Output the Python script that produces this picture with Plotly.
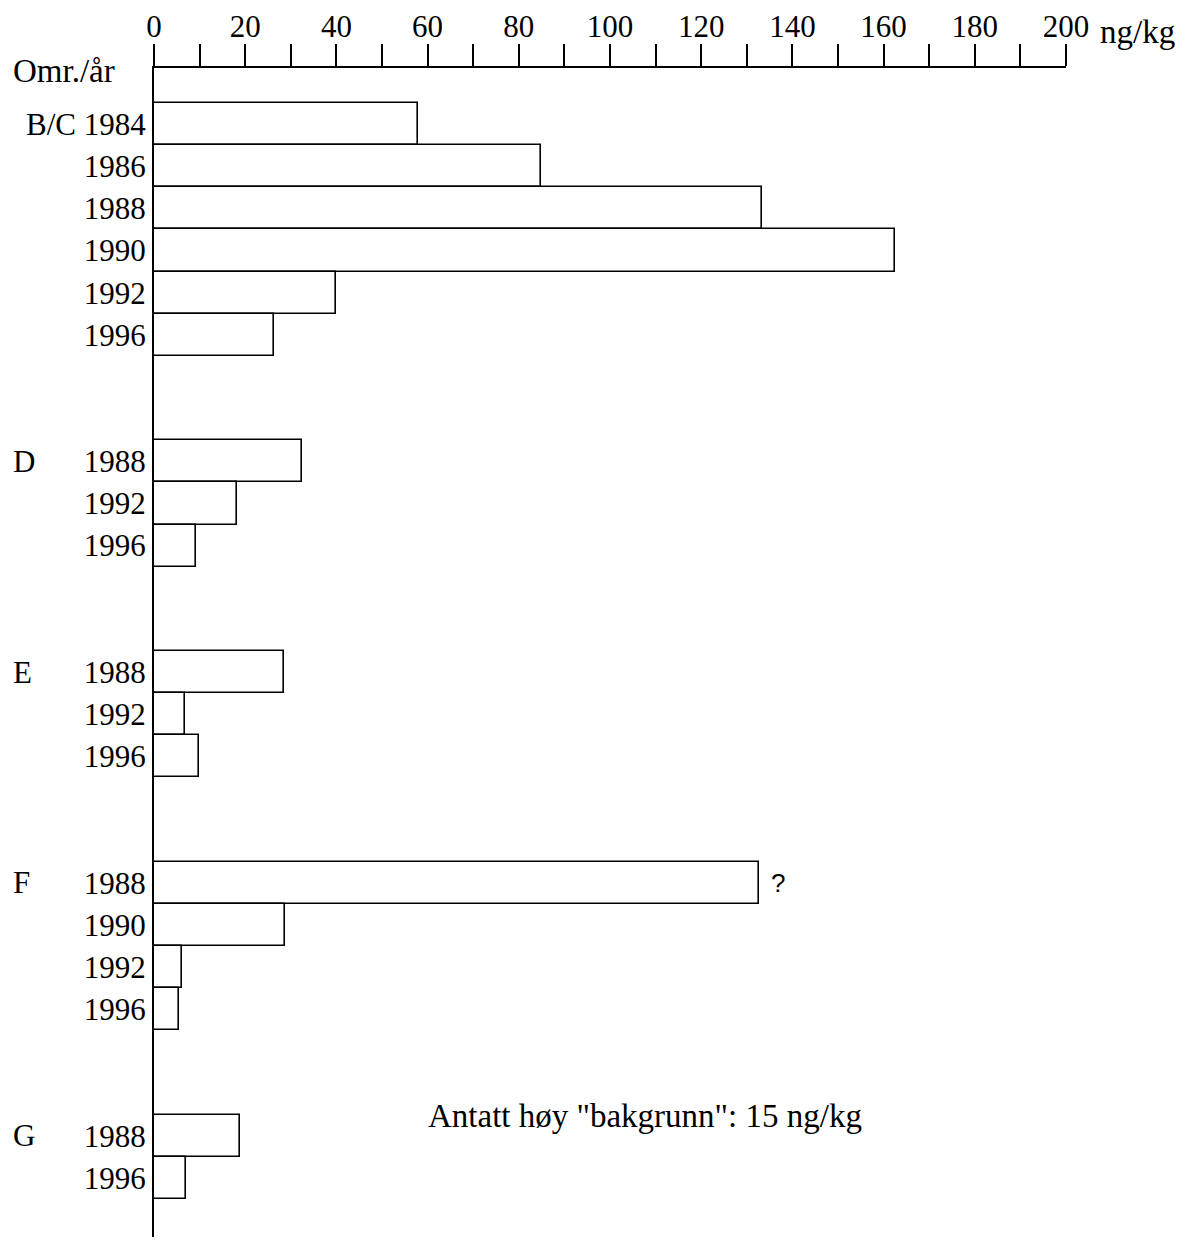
import plotly.graph_objects as go

# ---- data ----
areas = ["B/C", "D", "E", "F", "G"]
years_by_area = [
    [1984, 1986, 1988, 1990, 1992, 1996],
    [1988, 1992, 1996],
    [1988, 1992, 1996],
    [1988, 1990, 1992, 1996],
    [1988, 1996],
]
values_by_area = [
    [57.8, 84.8, 133.4, 162.6, 39.9, 26.4],
    [32.4, 18.3, 9.3],
    [28.4, 6.8, 9.8],
    [132.7, 28.7, 6.2, 5.4],
    [18.9, 7.0],
]
x_tick_vals = list(range(0, 201, 10))
x_tick_text = [str(v) if v % 20 == 0 else "" for v in x_tick_vals]
note_text = 'Antatt høy "bakgrunn": 15 ng/kg'
unit_text = "ng/kg"
header_text = "Omr./år"
question_text = "?"

# ---- build positions (slots, with 2 empty slots between groups) ----
GAP = 2
ypos, xs, labels, group_first = [], [], [], []
slot = 0
for ai, (area, yrs, vals) in enumerate(zip(areas, years_by_area, values_by_area)):
    group_first.append(slot)
    for j, (yr, v) in enumerate(zip(yrs, vals)):
        ypos.append(slot)
        xs.append(v)
        if ai == 0 and j == 0:
            labels.append(f"{area}\u00a0{yr}")
        else:
            labels.append(str(yr))
        slot += 1
    slot += GAP

SERIF = "Liberation Serif"
FS = 31
FS_TXT = 33

fig = go.Figure()
fig.add_trace(go.Bar(
    x=xs, y=ypos, orientation="h", width=1.0,
    marker=dict(color="white", line=dict(color="black", width=1.6)),
    hoverinfo="x",
))

annotations = []
for ai in range(1, len(areas)):
    annotations.append(dict(
        x=-0.157, xref="paper", y=group_first[ai], yref="y",
        text=areas[ai], showarrow=False, xanchor="left", yanchor="middle",
        font=dict(family=SERIF, size=FS, color="black"),
    ))
annotations.append(dict(
    x=-0.157, xref="paper", y=-1.25, yref="y", text=header_text,
    showarrow=False, xanchor="left", yanchor="middle",
    font=dict(family=SERIF, size=FS_TXT, color="black"),
))
annotations.append(dict(
    x=1.0, xref="paper", y=1.0, yref="paper", yshift=36, xshift=32,
    text=unit_text, showarrow=False, xanchor="left", yanchor="middle",
    font=dict(family=SERIF, size=FS_TXT, color="black"),
))
f_idx = group_first[3]
annotations.append(dict(
    x=xs[ypos.index(f_idx)], y=f_idx, xref="x", yref="y", xshift=19,
    text=question_text, showarrow=False, xanchor="center", yanchor="middle",
    font=dict(family="Liberation Sans", size=26, color="black"),
))
annotations.append(dict(
    x=107.7, y=group_first[4], xref="x", yref="y", yshift=20,
    text=note_text, showarrow=False, xanchor="center", yanchor="middle",
    font=dict(family=SERIF, size=FS_TXT, color="black"),
))

fig.update_layout(
    width=1192, height=1244,
    margin=dict(l=154, r=126, t=68, b=7),
    paper_bgcolor="white", plot_bgcolor="white",
    showlegend=False,
    bargap=0,
    annotations=annotations,
    xaxis=dict(
        side="top", range=[0, 200], tickvals=x_tick_vals, ticktext=x_tick_text,
        ticks="outside", ticklen=22, tickwidth=1.6, tickcolor="black",
        ticklabelstandoff=-5,
        showline=True, linecolor="black", linewidth=2,
        showgrid=False, zeroline=False, automargin=False,
        tickfont=dict(family=SERIF, size=31, color="black"),
    ),
    yaxis=dict(
        range=[26.4, -1.33], tickvals=ypos, ticktext=labels,
        showline=True, linecolor="black", linewidth=2,
        showgrid=False, zeroline=False, ticks="", automargin=False,
        tickfont=dict(family=SERIF, size=FS, color="black"),
    ),
)

fig.write_html("out.html")
